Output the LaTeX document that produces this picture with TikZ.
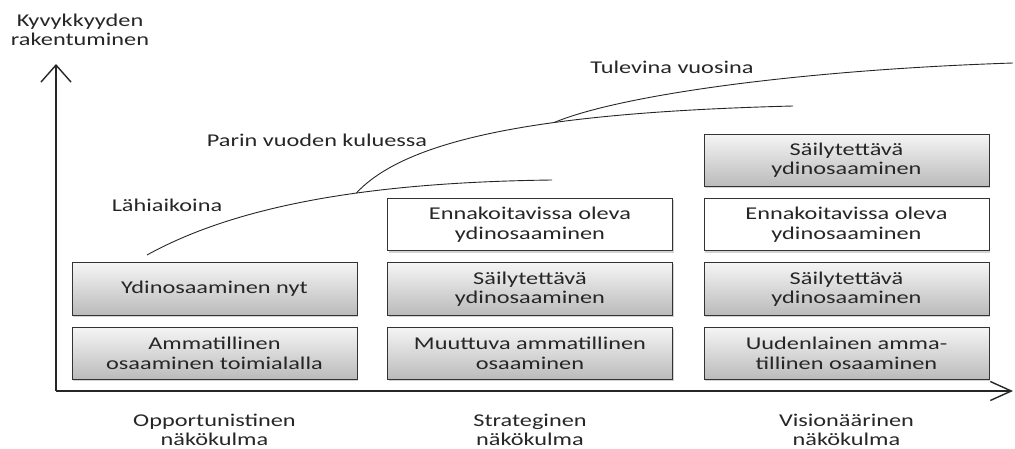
\documentclass[tikz,border=0pt]{standalone}
\usepackage{fontspec}
\setmainfont{Carlito}[FakeStretch=1.35]
\usetikzlibrary{arrows.meta,positioning,shadows}

\tikzset{
  osaaminen/.style={draw=black!80, line width=0.9pt, minimum width=285pt,
    minimum height=52.5pt, align=center, inner sep=2pt, text=black!85,
    drop shadow={shadow xshift=1.3pt, shadow yshift=-1.6pt, opacity=0.35}},
  harmaa/.style={osaaminen, top color=black!4, bottom color=black!27},
  valkea/.style={osaaminen, fill=white},
  aika/.style={anchor=base, text=black!85},
  nakokulma/.style={align=center, text=black!85},
  akseli/.style={line width=1.4pt, black!85},
  kayra/.style={line width=0.9pt, black!85},
}

\begin{document}
\begin{tikzpicture}[x=1pt, y=-1pt, font=\fontsize{18}{19.5}\selectfont,
    node distance=11pt]
\useasboundingbox (0,0) rectangle (1015,449);

% axes
\coordinate (origo) at (56,391);
\coordinate (ykarki) at (56,64);
\coordinate (xkarki) at (1013,391);
\draw[akseli, -{Straight Barb[length=17pt,width=30pt]}] (origo) -- (ykarki);
\draw[akseli, -{Straight Barb[length=21pt,width=19pt]}] (origo) -- (xkarki);
\node[nakokulma] (ylabel) at (80,30) {Kyvykkyyden\\rakentuminen};

% opportunistinen
\node[harmaa] (opp1) at (214.5,353.5) {Ammatillinen\\osaaminen toimialalla};
\node[harmaa, above=of opp1] (opp2) {Ydinosaaminen nyt};

% strateginen
\node[harmaa] (str1) at (530,353.5) {Muuttuva ammatillinen\\osaaminen};
\node[harmaa, above=of str1] (str2) {Säilytettävä\\ydinosaaminen};
\node[valkea, above=of str2] (str3) {Ennakoitavissa oleva\\ydinosaaminen};

% visionaarinen
\node[harmaa] (vis1) at (846.5,353.5) {Uudenlainen amma-\\tillinen osaaminen};
\node[harmaa, above=of vis1] (vis2) {Säilytettävä\\ydinosaaminen};
\node[valkea, above=of vis2] (vis3) {Ennakoitavissa oleva\\ydinosaaminen};
\node[harmaa, above=of vis3] (vis4) {Säilytettävä\\ydinosaaminen};

% time curves
\draw[kayra] (147,255) .. controls (250,198) and (400,182) .. (552,180)
  coordinate[pos=0.56] (haara1);
\draw[kayra] (haara1) .. controls (410,135) and (560,112) .. (793,106)
  coordinate[pos=0.6] (haara2);
\draw[kayra] (haara2) .. controls (620,95) and (800,70) .. (1013,63);

\node[aika] (lahi) at (167,212) {Lähiaikoina};
\node[aika] (parin) at (317,147) {Parin vuoden kuluessa};
\node[aika] (tulevina) at (672,74) {Tulevina vuosina};

% viewpoints
\node[nakokulma] (oppnak) at (214.5,430) {Opportunistinen\\näkökulma};
\node[nakokulma] (strnak) at (530,430) {Strateginen\\näkökulma};
\node[nakokulma] (visnak) at (846.5,430) {Visionäärinen\\näkökulma};
\end{tikzpicture}
\end{document}
